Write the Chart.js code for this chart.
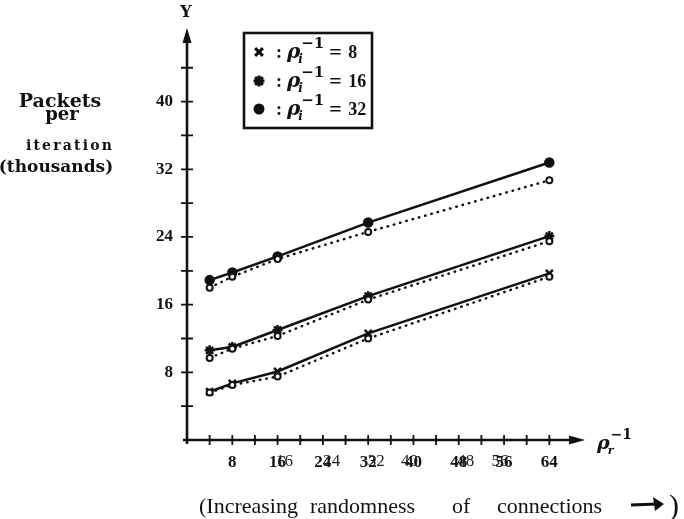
<!DOCTYPE html>
<html>
<head>
<meta charset="utf-8">
<script src="https://cdn.jsdelivr.net/npm/chart.js@4.4.1/dist/chart.umd.min.js"></script>
<style>
  body { margin: 0; background: #fff; }
  #wrap { width: 684px; height: 519px; }
</style>
</head>
<body>
<div id="wrap"><canvas id="myChart" width="684" height="519"></canvas></div>
<script>
// x positions (rho_r^-1) where results were measured
const xValues = [4, 8, 16, 32, 64]

// packets per iteration (thousands), solid = one curve, dotted = companion curve
const solid8 = [5.7, 6.7, 8.1, 12.6, 19.7]
const dotted8 = [5.6, 6.5, 7.5, 12.0, 19.3]
const solid16 = [10.6, 11.0, 13.0, 17.0, 24.1]
const dotted16 = [9.7, 10.8, 12.3, 16.6, 23.5]
const solid32 = [18.9, 19.8, 21.7, 25.7, 32.8]
const dotted32 = [18.0, 19.3, 21.4, 24.6, 30.7]

// tick labels
const xTickLabels = [8, 16, 24, 32, 40, 48, 56, 64]
const yTickLabels = [8, 16, 24, 32, 40]
// legend entries
const legendMarkers = ['crossRot', 'star', 'circle']
const legendValues = ['8', '16', '32']

const INK = '#111'
const toPts = (ys) => ys.map((y, i) => ({ x: xValues[i], y: y }))

function solidSet(ys, style, r) {
  return {
    data: toPts(ys),
    borderColor: INK,
    backgroundColor: INK,
    borderWidth: 2.5,
    pointStyle: style,
    pointRadius: r,
    pointBorderWidth: 2.5,
    pointBackgroundColor: INK,
    pointBorderColor: INK,
    tension: 0
  }
}

function dottedSet(ys) {
  return {
    data: toPts(ys),
    borderColor: INK,
    borderWidth: 2.5,
    borderDash: [0.5, 6],
    borderCapStyle: 'round',
    pointStyle: 'circle',
    pointRadius: 3,
    pointBorderWidth: 2,
    pointBackgroundColor: '#fff',
    pointBorderColor: INK,
    tension: 0
  }
}

// draws rho with a subscript and a -1 superscript, returns right edge
function drawRho(ctx, x, base, sub, size, supSize) {
  ctx.textAlign = 'left'
  ctx.textBaseline = 'alphabetic'
  ctx.font = 'italic bold ' + size + 'px "DejaVu Serif"'
  ctx.fillText('\u03c1', x, base)
  const w = ctx.measureText('\u03c1').width
  ctx.font = 'italic bold ' + Math.round(size * 0.6) + 'px "DejaVu Serif"'
  ctx.fillText(sub, x + w - 2, base + 5)
  ctx.font = 'bold ' + supSize + 'px "DejaVu Serif"'
  ctx.fillText('\u22121', x + w + 1, base - 10)
  return x + w + 1 + ctx.measureText('\u22121').width
}

const decor = {
  id: 'decor',
  afterDraw(chart) {
    const ctx = chart.ctx
    const xs = chart.scales.x
    const ys = chart.scales.y
    const x0 = xs.getPixelForValue(0)
    const y0 = ys.getPixelForValue(0)
    const xEnd = chart.chartArea.right
    const yTop = chart.chartArea.top
    ctx.save()
    ctx.strokeStyle = INK
    ctx.fillStyle = INK
    ctx.lineWidth = 2.6

    // axes
    ctx.beginPath()
    ctx.moveTo(x0, y0 + 4)
    ctx.lineTo(x0, yTop + 10)
    ctx.moveTo(x0 - 4, y0)
    ctx.lineTo(xEnd - 10, y0)
    ctx.stroke()
    // arrow heads
    ctx.beginPath()
    ctx.moveTo(x0, yTop)
    ctx.lineTo(x0 - 4.5, yTop + 15)
    ctx.lineTo(x0 + 4.5, yTop + 15)
    ctx.closePath()
    ctx.fill()
    ctx.beginPath()
    ctx.moveTo(xEnd, y0)
    ctx.lineTo(xEnd - 16, y0 - 4.5)
    ctx.lineTo(xEnd - 16, y0 + 4.5)
    ctx.closePath()
    ctx.fill()

    // tick marks crossing the axes
    ctx.lineWidth = 1.8
    ctx.beginPath()
    for (let v = 4; v <= 44; v += 4) {
      const py = ys.getPixelForValue(v)
      ctx.moveTo(x0 - 6, py)
      ctx.lineTo(x0 + 6, py)
    }
    for (let v = 4; v <= 64; v += 4) {
      const px = xs.getPixelForValue(v)
      ctx.moveTo(px, y0 - 5)
      ctx.lineTo(px, y0 + 5)
    }
    ctx.stroke()

    // second copies of the x tick labels (as in the scan)
    const ghost = { 16: 7, 24: 9, 32: 8, 40: -4, 48: 7, 56: -4 }
    ctx.font = '17px "Liberation Serif"'
    ctx.textAlign = 'center'
    ctx.textBaseline = 'top'
    ctx.fillStyle = '#222'
    Object.keys(ghost).forEach(k => {
      ctx.fillText(String(k), xs.getPixelForValue(Number(k)) + ghost[k], y0 + 13)
    })
    ctx.fillStyle = INK

    // axis names
    ctx.font = 'bold 16px "DejaVu Serif"'
    ctx.textAlign = 'center'
    ctx.textBaseline = 'middle'
    ctx.fillText('Y', x0 - 1, 13)
    drawRho(ctx, 597, 449, 'r', 19, 14)

    // y title
    ctx.textAlign = 'center'
    ctx.textBaseline = 'alphabetic'
    ctx.font = 'bold 19px "DejaVu Serif"'
    ctx.fillText('Packets', 60, 107)
    ctx.font = 'bold 18px "DejaVu Serif"'
    ctx.fillText('per', 62, 120)
    ctx.letterSpacing = '2.2px'
    ctx.font = 'bold 14px "DejaVu Serif"'
    ctx.fillText('iteration', 70, 150)
    ctx.letterSpacing = '0px'
    ctx.font = 'bold 17px "DejaVu Serif"'
    ctx.fillText('(thousands)', 56, 172)

    // caption under the x axis
    ctx.textAlign = 'left'
    ctx.font = '22px "Liberation Serif"'
    ctx.fillText('(Increasing', 199, 513)
    ctx.fillText('randomness', 310, 513)
    ctx.fillText('of', 452, 513)
    ctx.fillText('connections', 497, 513)
    ctx.font = '30px "Liberation Serif"'
    ctx.fillText(')', 669, 515)
    // hand drawn arrow of the caption
    ctx.lineWidth = 3
    ctx.beginPath()
    ctx.moveTo(631, 505)
    ctx.lineTo(657, 504)
    ctx.stroke()
    ctx.beginPath()
    ctx.moveTo(664, 504)
    ctx.lineTo(653, 497)
    ctx.lineTo(655, 511)
    ctx.closePath()
    ctx.fill()

    // legend box
    const bx = 244, by = 33, bw = 128, bh = 95
    ctx.lineWidth = 2.6
    ctx.strokeRect(bx, by, bw, bh)
    const rowY = [52, 81, 109]
    legendMarkers.forEach((m, i) => {
      const cy = rowY[i]
      ctx.lineWidth = 3
      Chart.helpers.drawPoint(ctx, { pointStyle: m, radius: m === 'circle' ? 4 : 5.5, borderWidth: 3, rotation: 0 }, 259, cy)
      if (m === 'circle') ctx.fill()
      ctx.font = 'bold 18px "Liberation Serif"'
      ctx.textAlign = 'left'
      ctx.textBaseline = 'alphabetic'
      ctx.fillText(':', 276, cy + 6)
      const ex = drawRho(ctx, 287, cy + 6, 'i', 20, 15)
      ctx.font = 'bold 22px "Liberation Serif"'
      ctx.fillText('=', ex + 5, cy + 7)
      ctx.font = 'bold 18px "Liberation Serif"'
      ctx.fillText(legendValues[i], ex + 24, cy + 6)
    })
    ctx.restore()
  }
}

const ctx = document.getElementById('myChart')
// eslint-disable-next-line no-unused-vars
const myChart = new Chart(ctx, {
  type: 'line',
  data: {
    datasets: [
      dottedSet(dotted8),
      dottedSet(dotted16),
      dottedSet(dotted32),
      solidSet(solid8, 'crossRot', 5),
      solidSet(solid16, 'star', 5),
      solidSet(solid32, 'circle', 4)
    ]
  },
  options: {
    responsive: false,
    animation: false,
    layout: { padding: { left: 0, right: 99, top: 28, bottom: 0 } },
    plugins: {
      legend: { display: false },
      tooltip: { enabled: false }
    },
    scales: {
      x: {
        type: 'linear',
        min: 0,
        max: 70.3,
        afterFit: (s) => { s.height = 79 },
        afterBuildTicks: (s) => { s.ticks = xTickLabels.map(v => ({ value: v })) },
        grid: { display: false, drawTicks: false },
        border: { display: false },
        ticks: {
          padding: 12,
          color: INK,
          font: { family: 'Liberation Serif', size: 17, weight: 'bold' }
        }
      },
      y: {
        min: 0,
        max: 48.7,
        afterFit: (s) => { s.width = 187 },
        afterBuildTicks: (s) => { s.ticks = yTickLabels.map(v => ({ value: v })) },
        grid: { display: false, drawTicks: false },
        border: { display: false },
        ticks: {
          padding: 14,
          color: INK,
          font: { family: 'Liberation Serif', size: 17, weight: 'bold' }
        }
      }
    }
  },
  plugins: [decor]
})
</script>
</body>
</html>
